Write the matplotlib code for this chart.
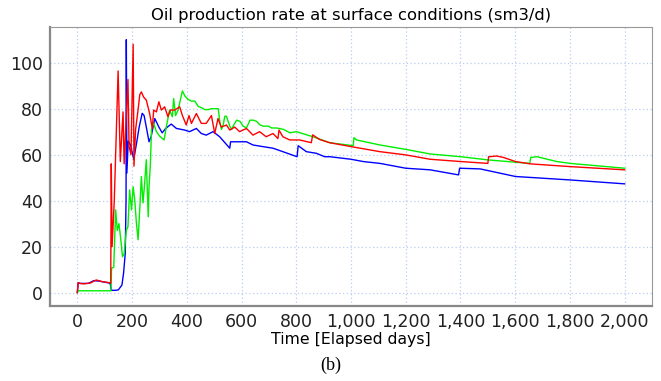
import matplotlib
matplotlib.use("Agg")
import matplotlib.pyplot as plt

# values (days, sm3/d)
red_days = [0, 3, 10, 23, 48, 69, 90, 118, 122, 124, 127, 135, 149, 157, 167, 171, 185, 189,
            196, 204, 207, 213, 222, 228, 234, 242, 252, 264, 274, 279, 289, 298, 307, 319,
            331, 340, 356, 374, 384, 398, 408, 417, 435, 453, 471, 490, 502, 514, 526, 545,
            557, 575, 593, 618, 642, 666, 690, 715, 733, 737, 751, 776, 812, 855, 860, 885,
            922, 1000, 1106, 1200, 1289, 1401, 1500, 1503, 1533, 1557, 1601, 1655, 1801, 2000]
red_vals = [0, 4.3, 4.0, 3.8, 4.2, 5.5, 4.8, 4.3, 4.0, 56, 20, 40, 96.4, 57, 78.6, 56, 92.7, 63.6,
            60, 108, 55, 71, 79.6, 86, 87.3, 85.1, 83.7, 78, 71.4, 79.4, 78.6, 83, 79.4, 80.8,
            76.5, 79.4, 79.4, 80.8, 77, 72.9, 77, 73.6, 77.9, 73.6, 73.6, 77, 69.2, 75.7, 72, 72.9,
            70.7, 72, 70, 71.4, 68.5, 70, 67.8, 69.2, 67, 70.7, 67.8, 66.4, 66.4, 65.2, 68.6, 66.6,
            65.2, 63.5, 61.3, 59.9, 58, 57, 56.2, 59.1, 59.4, 58.8, 57, 56, 54.8, 53.4]

green_days = [0, 3, 120, 123, 125, 133, 140, 146, 152, 158, 165, 171, 179, 185, 191, 198, 204,
              210, 216, 222, 228, 234, 240, 246, 252, 259, 262, 267, 271, 279, 289, 301, 317,
              325, 337, 347, 352, 359, 368, 384, 393, 405, 417, 429, 442, 454, 466, 478, 490,
              503, 510, 515, 521, 527, 533, 539, 545, 551, 557, 564, 572, 582, 594, 606, 618,
              631, 643, 655, 667, 679, 698, 710, 728, 753, 777, 800, 861, 922, 1008, 1011, 1020,
              1106, 1200, 1289, 1401, 1502, 1653, 1657, 1680, 1752, 1801, 2000]
green_vals = [0, 0.8, 0.8, 0.8, 10.6, 11, 36, 27, 30, 24, 15.6, 17, 27, 28.7, 44.7, 36, 46,
              40, 30, 23, 36, 50.5, 39, 47.6, 57.8, 33, 46, 56, 71, 73.6, 70, 68, 66.4,
              72, 79.4, 76.5, 84.4, 77, 79.4, 87.7, 85.5, 84, 83.3, 83.3, 81, 80.4, 79.6, 79.6, 80,
              80, 80, 80, 74, 71, 73, 76.7, 76.7, 74.5, 72.4, 71, 73, 75, 74.5, 72.4, 71.6,
              75, 75, 74.5, 73, 72.4, 72.4, 71.6, 71.6, 71, 69.5, 70, 67.8, 65.2, 63.9, 67.4, 66.4,
              64.2, 62.3, 60.3, 59.1, 57.7, 56.2, 58.8, 59.1, 57, 56.2, 54.1]

blue_days = [0, 3, 10, 40, 60, 80, 115, 120, 124, 140, 150, 163, 169, 175, 178, 179, 181, 186,
             195, 206, 215, 226, 237, 244, 252, 262, 270, 283, 298, 310, 323, 343, 362, 392,
             410, 435, 453, 471, 496, 520, 557, 560, 618, 642, 678, 715, 751, 803, 807, 837,
             873, 904, 923, 1000, 1045, 1106, 1200, 1289, 1393, 1397, 1472, 1601, 1801, 2000]
blue_vals = [0, 4.3, 4.0, 4.0, 5.2, 5.0, 4.2, 4.0, 1.0, 1.0, 1.2, 3.3, 8.5, 17, 40, 110, 52, 66,
             64, 58, 64, 72, 78, 77, 72, 65.6, 68, 75.7, 72, 69.5, 71.4, 73.3, 71.4, 70.7,
             70, 71.4, 69.2, 68.5, 70, 67.8, 62.8, 65.6, 65.6, 64.2, 63.5, 62.8, 61.3, 59.1, 63.9, 61.3,
             60.6, 59.1, 59.1, 58, 57, 56.2, 54.1, 53.4, 51.2, 54.1, 53.8, 50.5, 49, 47.3]

xticks = list(range(0, 2001, 200))
xtick_labels = ["{:,}".format(t) for t in xticks]
yticks = [0, 20, 40, 60, 80, 100]


def plot():
    fig = plt.figure(figsize=(6.61, 3.81), dpi=100)
    ax = fig.add_axes([0.0756, 0.197, 0.9108, 0.732])

    ax.plot(blue_days, blue_vals, color="#0000ff", lw=1.0)
    ax.plot(green_days, green_vals, color="#00ee00", lw=1.0)
    ax.plot(red_days, red_vals, color="#ff0000", lw=1.0)

    ax.set_xlim(-100, 2100)
    ax.set_ylim(-5.8, 115.5)
    ax.set_xticks(xticks)
    ax.set_xticklabels(xtick_labels)
    ax.set_yticks(yticks)
    ax.tick_params(length=0, labelsize=12.5, pad=5, colors="#222222")

    ax.grid(True, color="#b8cdf0", linestyle=(0, (1, 2)), lw=0.9)
    for side in ["top", "right"]:
        ax.spines[side].set_color("#999999")
        ax.spines[side].set_linewidth(0.8)
    for side in ["left", "bottom"]:
        ax.spines[side].set_color("#888888")
        ax.spines[side].set_linewidth(1.6)

    ax.set_title("Oil production rate at surface conditions (sm3/d)", fontsize=11.8, pad=5)
    ax.set_xlabel("Time [Elapsed days]", fontsize=11.3, labelpad=1)
    fig.text(0.5, 0.028, "(b)", family="Liberation Serif", fontsize=13, ha="center",
             va="baseline")

    fig.savefig("out.png", dpi=100)
    plt.close(fig)


if __name__ == "__main__":
    plot()
